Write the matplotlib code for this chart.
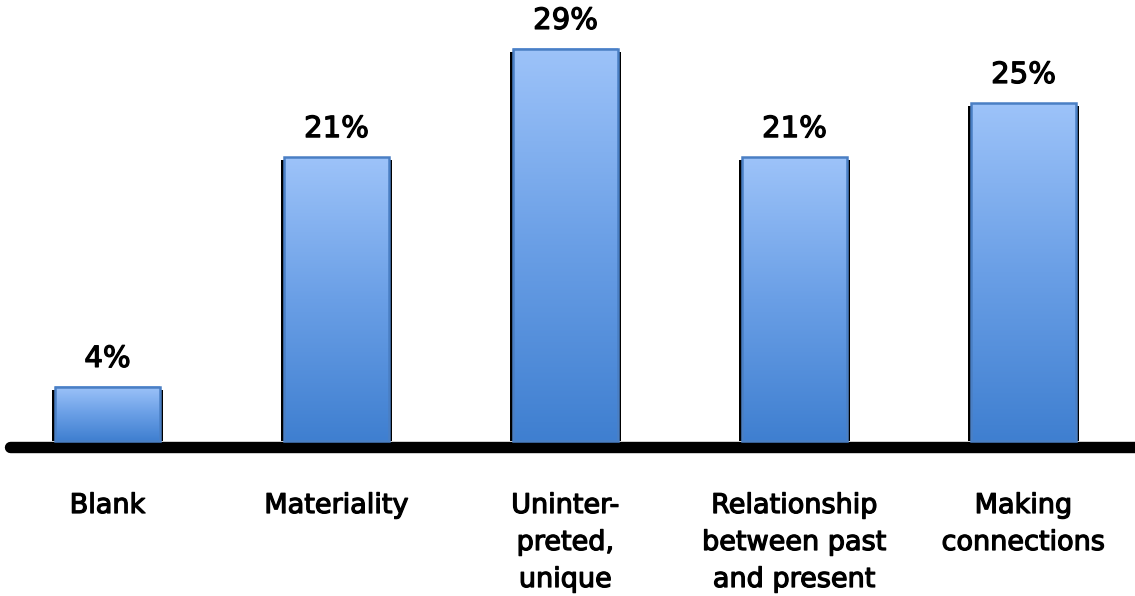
import numpy as np
import matplotlib.pyplot as plt
import matplotlib.patheffects as pe
from matplotlib.colors import LinearSegmentedColormap
from matplotlib.patches import Rectangle

# Data
categories = ['Blank', 'Materiality', 'Uninter-\npreted,\nunique',
              'Relationship\nbetween past\nand present', 'Making\nconnections']
values = [4, 21, 29, 21, 25]
value_labels = ['4%', '21%', '29%', '21%', '25%']

# Figure in pixel-like layout
fig = plt.figure(figsize=(11.35, 5.96), dpi=100)
ax = fig.add_axes([0, 0, 1, 1])
ax.axis('off')

px_per_unit_x = 229.0
px_per_unit_y = 13.52
x0_px = 107.5
base_px = 441.0

def xd(px):
    return (px - x0_px) / px_per_unit_x

def ydp(dpx):
    return dpx / px_per_unit_y

bar_w = 105 / px_per_unit_x
cmap = LinearSegmentedColormap.from_list('barfill', ['#3f7fd0', '#6a9fe6', '#9dc3f9'])
grad = np.linspace(0, 1, 256).reshape(-1, 1)
heavy = [pe.withStroke(linewidth=0.9, foreground='black')]

# Axis line
ax.plot([xd(10), xd(1135)], [-ydp(5.5), -ydp(5.5)], color='black', lw=8.2,
        solid_capstyle='round', zorder=1)

for i, v in enumerate(values):
    left = i - bar_w / 2
    right = i + bar_w / 2
    # dark shadow behind bar
    sh = Rectangle((left - 3 / px_per_unit_x, 0), bar_w + 6 / px_per_unit_x,
                   v - ydp(3), facecolor='black', edgecolor='none', zorder=2)
    ax.add_patch(sh)
    # gradient fill
    ax.imshow(grad, extent=[left, right, 0, v], origin='lower', cmap=cmap,
              aspect='auto', zorder=3, interpolation='bilinear')
    # outline
    ax.add_patch(Rectangle((left, 0), bar_w, v, fill=False, edgecolor='#4a7fc4',
                           lw=1.8, zorder=4))
    # value label
    ax.text(i, v + ydp(20), value_labels[i], ha='center', va='baseline',
            fontsize=21, family='DejaVu Sans', color='black', zorder=5,
            path_effects=heavy)
    # category label
    ax.text(i, -ydp(52), categories[i], ha='center', va='top',
            fontsize=19.5, family='DejaVu Sans', color='black',
            linespacing=1.55, zorder=5, path_effects=heavy)

ax.set_xlim(xd(0), xd(1135))
ax.set_ylim(-ydp(596 - base_px), ydp(base_px))

fig.savefig('out.png', dpi=100)
